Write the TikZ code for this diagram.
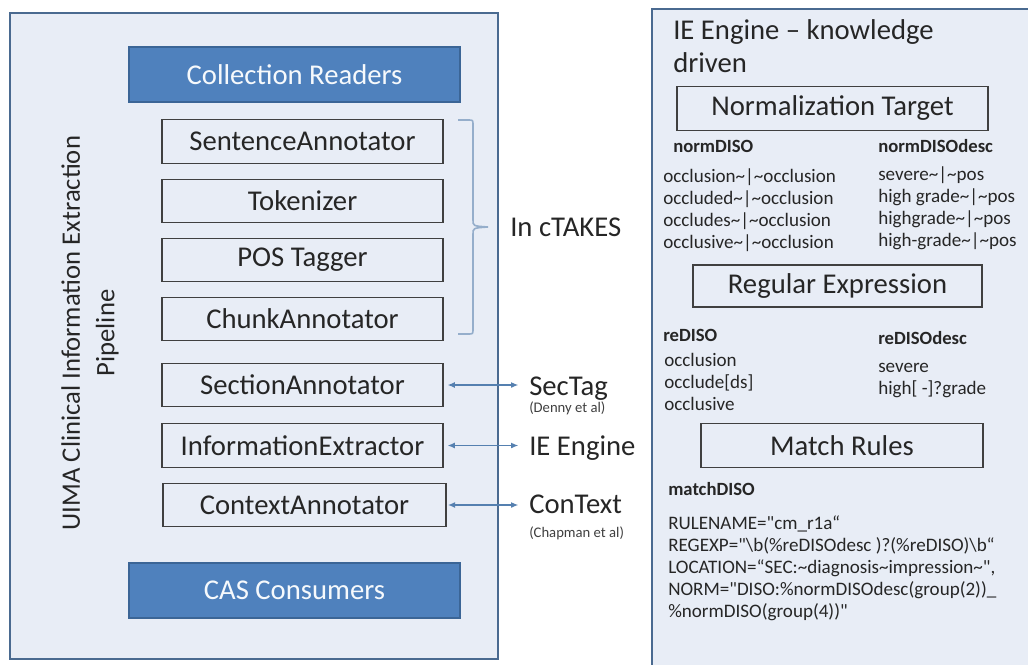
\documentclass[tikz,border=0pt]{standalone}
\usepackage{fontspec}
\setmainfont{Carlito}[Ligatures=TeXOff]
\usetikzlibrary{arrows.meta}
\definecolor{panelfill}{HTML}{E8EDF6}
\definecolor{panelborder}{HTML}{4A6A90}
\definecolor{boxblue}{HTML}{4F81BD}
\definecolor{boxblueborder}{HTML}{3B6596}
\definecolor{arrowblue}{HTML}{5580B0}
\definecolor{bracecol}{HTML}{95AECB}
\definecolor{txt}{HTML}{262626}
\begin{document}
\begin{tikzpicture}[x=0.75pt,y=-0.75pt,
  panel/.style={draw=panelborder, line width=2pt, fill=panelfill},
  bigfont/.style={font=\fontsize{21.5}{25}\selectfont},
  bluebox/.style={bigfont, draw=boxblueborder, line width=1.5pt, fill=boxblue, text=white!95!boxblue,
    minimum width=248.25pt, minimum height=41.25pt, inner sep=0pt},
  stagebox/.style={bigfont, draw=black!75, line width=0.8pt, text=txt,
    minimum width=210.75pt, minimum height=32.5pt, inner sep=0pt},
  label/.style={bigfont, text=txt, inner sep=0pt, anchor=base west},
  cite/.style={font=\fontsize{11}{13}\selectfont, text=black!75, inner sep=0pt, anchor=base west},
  head/.style={font=\fontsize{14}{16}\selectfont\bfseries, text=txt, inner sep=0pt, anchor=base west},
  list/.style={font=\fontsize{14.3}{16.3}\selectfont, text=txt, inner sep=0pt, anchor=base west, align=left},
  link/.style={draw=arrowblue, line width=1pt, {Latex[length=5.5pt,width=4.5pt]}-{Latex[length=5.5pt,width=4.5pt]}},
  bracket/.style={draw=bracecol, line width=1.2pt}
]
\clip (0,0) rectangle (1028,664);
\fill[white] (0,0) rectangle (1028,664);

% panels
\draw[panel] (10,13) rectangle (498,659);
\draw[panel] (652,9) rectangle (1040,672);

% left pipeline
\node[bluebox] (cr) at (294.5,74.5) {Collection Readers};
\node[stagebox] (sent) at (302.5,141.5) {SentenceAnnotator};
\node[stagebox] (tok) at (302.5,201) {Tokenizer};
\node[stagebox] (pos) at (302.5,260) {POS Tagger};
\node[stagebox] (chunk) at (302.5,319) {ChunkAnnotator};
\node[stagebox] (sect) at (302.5,385) {SectionAnnotator};
\node[stagebox] (info) at (302.5,445.5) {InformationExtractor};
\node[stagebox, minimum width=212.25pt] (ctx) at (304.5,505) {ContextAnnotator};
\node[bluebox] (cas) at (294.5,590) {CAS Consumers};

\node[bigfont, text=txt, rotate=90, align=center, font=\fontsize{20}{26}\selectfont, inner sep=0pt] (title) at (90,333)
  {UIMA Clinical Information Extraction\\Pipeline};

% brace
\coordinate (bt) at (458,120);
\coordinate (bb) at (458,334);
\coordinate (btip) at (488,227);
\draw[bracket] (bt) -- (468,120) .. controls (473,120) .. (473,125) -- (473,220)
  .. controls (473,226) .. (btip) .. controls (473,228) .. (473,234) -- (473,329)
  .. controls (473,334) .. (468,334) -- (bb);
\node[label] (ctakes) at (510,236) {In cTAKES};

% external tools
\node[label] (sectag) at (529,395) {SecTag};
\node[cite] (denny) at (529,412) {(Denny et al)};
\node[label] (ieeng) at (529,455) {IE Engine};
\node[label] (context) at (529,513) {ConText};
\node[cite] (chapman) at (529,537) {(Chapman et al)};

\draw[link, shorten <=3pt, shorten >=8pt] (sect.east) -- (sect.east -| sectag.west);
\draw[link, shorten <=3pt, shorten >=8pt] (info.east) -- (info.east -| ieeng.west);
\draw[link, shorten <=1pt, shorten >=8pt] (ctx.east) -- (ctx.east -| context.west);

% right panel
\node[bigfont, font=\fontsize{21.5}{24.75}\selectfont, text=txt, inner sep=0pt, anchor=base west, align=left] (ietitle) at (673,72)
  {IE Engine – knowledge\\driven};
\node[stagebox, minimum width=233.25pt] (nt) at (832.5,108.5) {Normalization Target};

\node[head] (ndiso) at (673,152) {normDISO};
\node[head] (ndisod) at (878,152) {normDISOdesc};
\node[list] (ndisolist) at (663,248)
  {occlusion\textasciitilde|\textasciitilde occlusion\\
   occluded\textasciitilde|\textasciitilde occlusion\\
   occludes\textasciitilde|\textasciitilde occlusion\\
   occlusive\textasciitilde|\textasciitilde occlusion};
\node[list] (ndisodlist) at (878,246)
  {severe\textasciitilde|\textasciitilde pos\\
   high grade\textasciitilde|\textasciitilde pos\\
   highgrade\textasciitilde|\textasciitilde pos\\
   high-grade\textasciitilde|\textasciitilde pos};

\node[stagebox, minimum width=216.75pt, minimum height=31.5pt] (re) at (837.5,286) {Regular Expression};

\node[head] (rediso) at (663,341) {reDISO};
\node[head] (redisod) at (878,344) {reDISOdesc};
\node[list] (redisolist) at (664,410) {occlusion\\occlude[ds]\\occlusive};
\node[list] (redisodlist) at (878,394) {severe\\high[ -]?grade};

\node[stagebox, minimum width=211.5pt] (mr) at (842,445.5) {Match Rules};

\node[head] (mdiso) at (668,495) {matchDISO};
\node[list, font=\fontsize{14.3}{16.5}\selectfont] (rule) at (668,617)
  {RULENAME="cm\_r1a“\\
   REGEXP="\textbackslash b(\%reDISOdesc )?(\%reDISO)\textbackslash b“\\
   LOCATION=“SEC:\textasciitilde diagnosis\textasciitilde impression\textasciitilde",\\
   NORM="DISO:\%normDISOdesc(group(2))\_\\
   \%normDISO(group(4))"};
\end{tikzpicture}
\end{document}
